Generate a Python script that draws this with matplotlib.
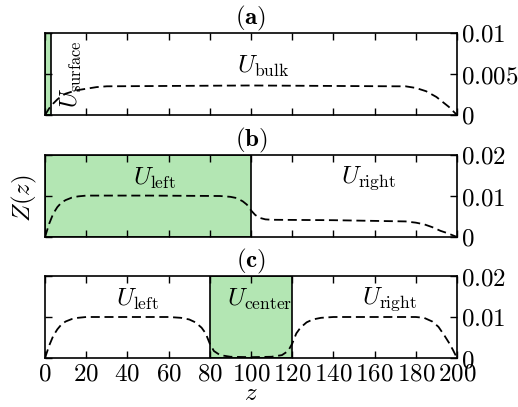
import matplotlib
matplotlib.use("Agg")
import matplotlib.pyplot as plt

plt.rcParams["mathtext.fontset"] = "cm"
plt.rcParams["font.family"] = "serif"
plt.rcParams["font.serif"] = ["DejaVu Serif"]

# Order parameter profiles Z(z) for the three potential configurations
z_a = [0, 2, 4, 6, 8, 10, 15, 20, 25, 30, 100, 170, 175, 180, 185, 190, 193, 196, 198, 200]
Z_a = [0, 0.0008, 0.0014, 0.0019, 0.0023, 0.0026, 0.0030, 0.0032, 0.0034, 0.0035,
       0.0036, 0.0035, 0.0035, 0.0033, 0.0029, 0.0022, 0.0016, 0.0010, 0.0005, 0]

z_b = [0, 2, 4, 6, 8, 10, 13, 16, 20, 50, 85, 90, 93, 96, 98, 100, 102, 104, 107, 110,
       140, 175, 180, 184, 188, 192, 195, 198, 200]
Z_b = [0, 0.0032, 0.0057, 0.0073, 0.0084, 0.0090, 0.0096, 0.0099, 0.0101, 0.0101, 0.0100,
       0.0098, 0.0095, 0.0087, 0.0079, 0.0065, 0.0054, 0.0047, 0.0043, 0.0042,
       0.0041, 0.0038, 0.0035, 0.0031, 0.0024, 0.0015, 0.0010, 0.0004, 0]

z_c = [0, 2, 4, 6, 8, 10, 13, 16, 20, 60, 66, 70, 73, 76, 78, 80, 82, 85, 90, 100,
       110, 115, 118, 120, 122, 124, 127, 130, 134, 140, 180, 184, 188, 191, 194, 196, 198, 200]
Z_c = [0, 0.0030, 0.0054, 0.0070, 0.0082, 0.0089, 0.0095, 0.0098, 0.0100, 0.0100, 0.0098,
       0.0094, 0.0087, 0.0074, 0.0060, 0.0035, 0.0017, 0.0007, 0.0003, 0.0002,
       0.0003, 0.0007, 0.0017, 0.0035, 0.0060, 0.0074, 0.0087, 0.0094, 0.0098, 0.0100,
       0.0100, 0.0098, 0.0089, 0.0076, 0.0054, 0.0038, 0.0020, 0]

regions_a = [(0, 3)]
regions_b = [(0, 100)]
regions_c = [(80, 120)]

ylims = [0.01, 0.02, 0.02]
yticks = [[0, 0.005, 0.01], [0, 0.01, 0.02], [0, 0.01, 0.02]]
ytick_labels = [["$0$", "$0.005$", "$0.01$"], ["$0$", "$0.01$", "$0.02$"], ["$0$", "$0.01$", "$0.02$"]]
xticks = list(range(0, 201, 20))
xtick_labels = [f"${v}$" for v in xticks]
titles = [r"$(\mathbf{a})$", r"$(\mathbf{b})$", r"$(\mathbf{c})$"]

labels_a = [(r"$U_{\rm bulk}$", 106, 0.0059)]
labels_b = [(r"$U_{\rm left}$", 53, 0.0143), (r"$U_{\rm right}$", 157, 0.0143)]
labels_c = [(r"$U_{\rm left}$", 45, 0.0142), (r"$U_{\rm center}$", 104, 0.0142),
            (r"$U_{\rm right}$", 167, 0.0144)]

green = "#b3e6b3"
fs = 18

fig = plt.figure(figsize=(5.18, 4.07), dpi=100)
left, width, height = 45 / 518, 412 / 518, 82 / 407
bottoms = [1 - 115 / 407, 1 - 237 / 407, 1 - 358 / 407]

data = [(z_a, Z_a, regions_a, labels_a), (z_b, Z_b, regions_b, labels_b), (z_c, Z_c, regions_c, labels_c)]

for i, (zz, ZZ, regs, labs) in enumerate(data):
    ax = fig.add_axes([left, bottoms[i], width, height])
    for (x0, x1) in regs:
        ax.axvspan(x0, x1, facecolor=green, edgecolor="black", linewidth=1.2, zorder=1)
    ax.plot(zz, ZZ, color="black", lw=1.3, ls=(0, (5, 2.6)), zorder=3)
    for (txt, x, y) in labs:
        ax.text(x, y, txt, ha="center", va="center", fontsize=fs, zorder=4)
    if i == 0:
        ax.text(13, 0.0050, r"$U_{\rm surface}$", rotation=90, ha="center", va="center",
                fontsize=fs - 1, zorder=4)
    ax.set_xlim(0, 200)
    ax.set_ylim(0, ylims[i])
    ax.set_xticks(xticks)
    ax.set_yticks(yticks[i])
    ax.set_yticklabels(ytick_labels[i])
    if i == 2:
        ax.set_xticklabels(xtick_labels)
    else:
        ax.set_xticklabels([])
    ax.yaxis.tick_right()
    ax.tick_params(which="both", direction="in", top=True, bottom=True, left=True, right=True,
                   labelleft=False, labelright=True, length=5, width=1, labelsize=fs, pad=3)
    for sp in ax.spines.values():
        sp.set_linewidth(1.2)
    ax.set_title(titles[i], fontsize=fs, pad=2)

fig.text(24 / 518, 1 - 198 / 407, r"$Z(z)$", rotation=90, ha="center", va="center", fontsize=fs)
fig.text(251 / 518, 1 - 393 / 407, r"$z$", ha="center", va="center", fontsize=fs)

fig.savefig("out.png", dpi=100)
